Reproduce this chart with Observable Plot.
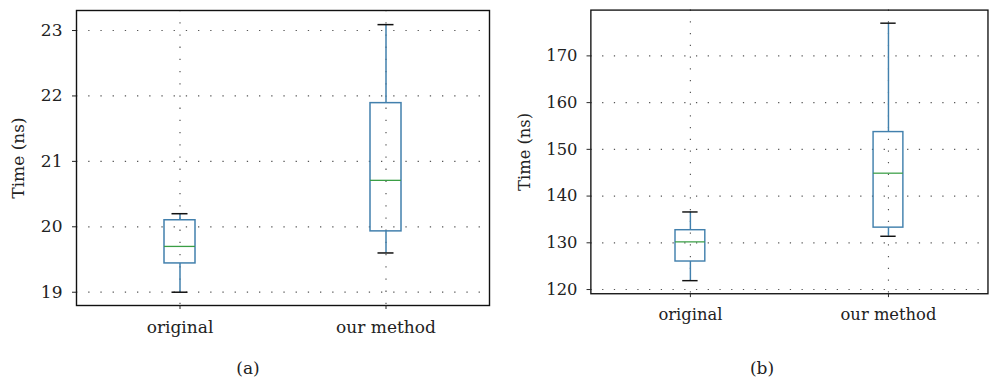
<!DOCTYPE html>
<html>
<head>
<meta charset="utf-8">
<script src="https://cdn.jsdelivr.net/npm/d3@7"></script>
<script src="https://cdn.jsdelivr.net/npm/@observablehq/plot@0.6"></script>
<style>
  html, body { margin: 0; padding: 0; background: #fff; }
  #wrap { position: relative; width: 1000px; height: 382px; overflow: hidden; font-family: "DejaVu Serif", "Liberation Serif", serif; }
  .panel { position: absolute; top: 0; }
  #wrap svg, #wrap svg * { font-family: "DejaVu Serif", "Liberation Serif", serif !important; }
  #wrap svg text, #wrap svg g { font-size: 17px !important; }
  .cap { position: absolute; top: 358px; font-size: 17px; color: #222; transform: translateX(-50%); }
</style>
</head>
<body>
<div id="wrap">
  <div class="panel" id="pa" style="left:0px"></div>
  <div class="panel" id="pb" style="left:500px"></div>
  <div class="cap" style="left:248px">(a)</div>
  <div class="cap" style="left:762px">(b)</div>
</div>
<script>
const categories = ["original", "our method"];

// Panel (a): box-plot summaries (ns)
const aLow    = [19.00, 19.60];
const aQ1     = [19.44, 19.93];
const aMedian = [19.70, 20.71];
const aQ3     = [20.10, 21.89];
const aHigh   = [20.20, 23.09];
const aTicks  = [19, 20, 21, 22, 23];

// Panel (b): box-plot summaries (ns)
const bLow    = [121.9, 131.4];
const bQ1     = [126.0, 133.25];
const bMedian = [130.2, 144.9];
const bQ3     = [132.7, 153.7];
const bHigh   = [136.6, 177.0];
const bTicks  = [120, 130, 140, 150, 160, 170];

const BLUE = "#4280ad";
const GREEN = "#3a9e45";
const FONT = "DejaVu Serif, Liberation Serif, serif";

function rows(low, q1, med, q3, high) {
  return categories.map((c, i) => ({cat: c, low: low[i], q1: q1[i], med: med[i], q3: q3[i], high: high[i]}));
}

function panel({data, ticks, domain, width, marginLeft, marginRight, labelOffset}) {
  const grid = {stroke: "#555", strokeOpacity: 1, strokeWidth: 1.2, strokeDasharray: "1.3,10.9"};
  return Plot.plot({
    width, height: 345,
    marginTop: 10, marginBottom: 40, marginLeft, marginRight,
    style: {fontFamily: FONT, fontSize: "17px", color: "#222", background: "transparent", overflow: "visible"},
    x: {type: "band", domain: categories, paddingInner: 0.85, paddingOuter: 0.425, label: null},
    y: {domain, label: null},
    marks: [
      Plot.gridY(ticks, grid),
      Plot.gridX(categories, grid),
      Plot.frame({stroke: "#111", strokeWidth: 1.4}),
      Plot.axisY(ticks, {tickSize: 4, tickPadding: 10, stroke: "#222", tickFormat: d3.format("d"), label: "Time (ns)", labelAnchor: "center", labelArrow: "none", labelOffset, fontSize: 17}),
      Plot.axisX(categories, {tickSize: 4, tickPadding: 11, stroke: "#222", label: null, fontSize: 17}),
      Plot.ruleX(data, {x: "cat", y1: "low", y2: "q1", stroke: BLUE, strokeWidth: 1.5}),
      Plot.ruleX(data, {x: "cat", y1: "q3", y2: "high", stroke: BLUE, strokeWidth: 1.5}),
      Plot.barY(data, {x: "cat", y1: "q1", y2: "q3", fill: "none", stroke: BLUE, strokeWidth: 1.5}),
      Plot.tickY(data, {x: "cat", y: "med", stroke: GREEN, strokeWidth: 1.3}),
      Plot.tickY(data, {x: "cat", y: "low", stroke: "#111", strokeWidth: 1.5, insetLeft: 7.5, insetRight: 7.5}),
      Plot.tickY(data, {x: "cat", y: "high", stroke: "#111", strokeWidth: 1.5, insetLeft: 7.5, insetRight: 7.5})
    ]
  });
}

document.getElementById("pa").append(panel({
  data: rows(aLow, aQ1, aMedian, aQ3, aHigh),
  ticks: aTicks, domain: [18.797, 23.306],
  width: 500, marginLeft: 76, marginRight: 11, labelOffset: 65
}));

document.getElementById("pb").append(panel({
  data: rows(bLow, bQ1, bMedian, bQ3, bHigh),
  ticks: bTicks, domain: [119.1, 179.8],
  width: 520, marginLeft: 94, marginRight: 13, labelOffset: 75
}));
</script>
</body>
</html>
